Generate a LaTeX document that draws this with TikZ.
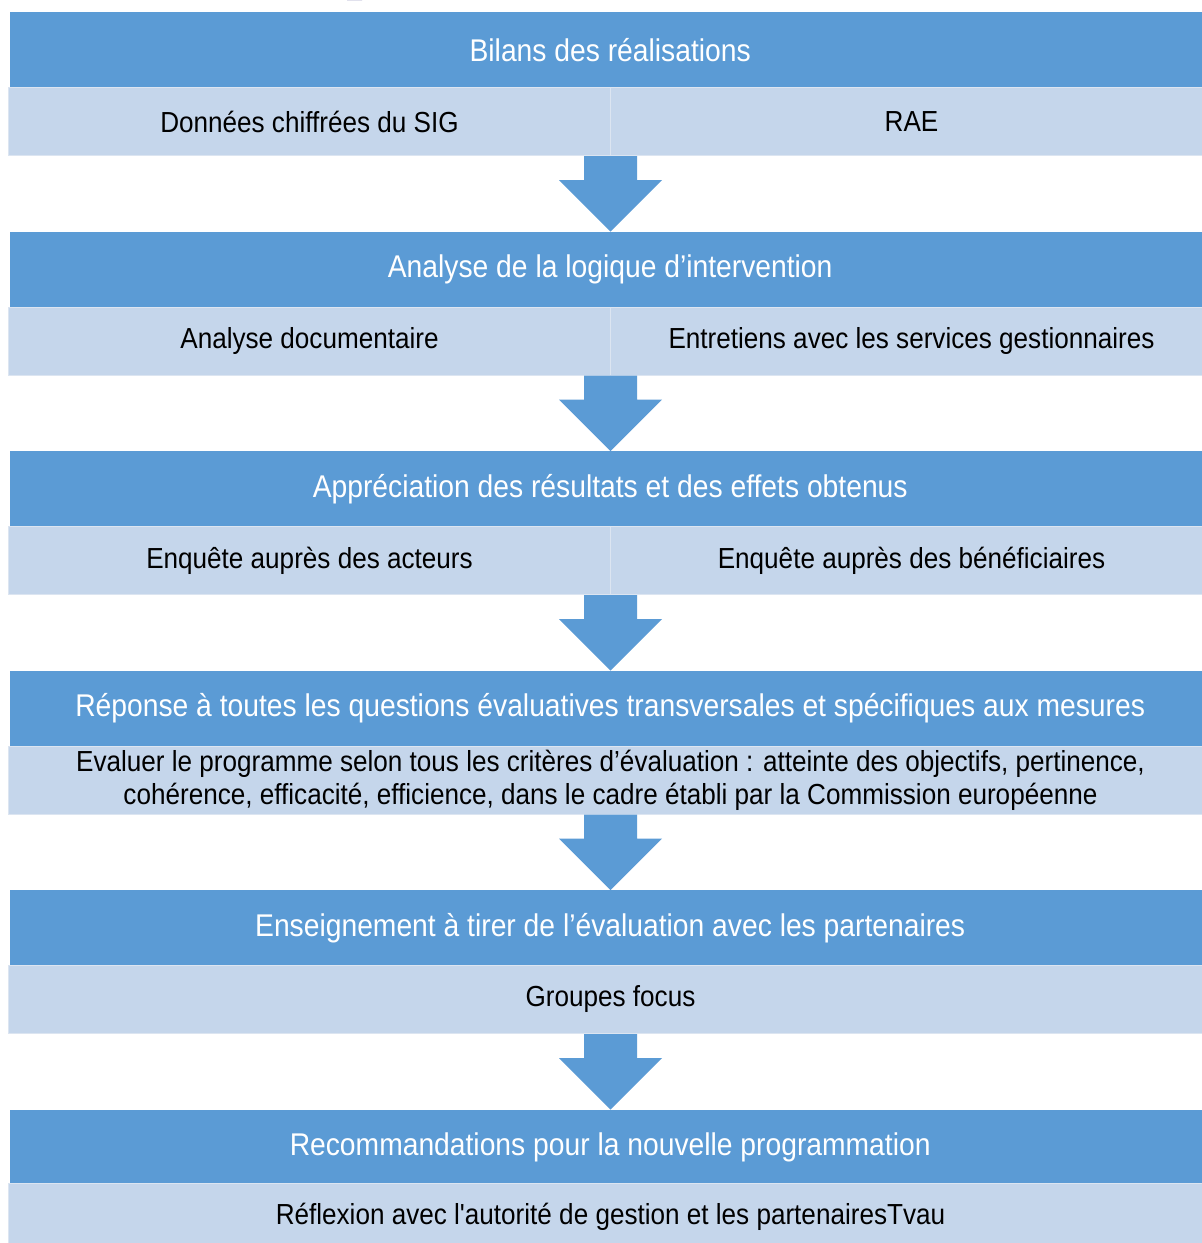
\documentclass[tikz,border=0pt]{standalone}
\usepackage{fontspec}
\newfontfamily\diagfont{Liberation Sans}[FakeStretch=0.9]
\usetikzlibrary{calc}
\definecolor{hdrblue}{HTML}{5B9BD5}
\definecolor{lightband}{HTML}{C5D6EB}
\definecolor{bandedge}{HTML}{DCE5F1}
\definecolor{navytitle}{HTML}{101070}
\tikzset{
  hdr/.style={fill=hdrblue, draw=none, anchor=north west, minimum width=1200pt, minimum height=75pt, inner sep=0pt,
    text=white, font=\diagfont\fontsize{31.4}{35}\selectfont},
  band/.style={fill=lightband, draw=bandedge, line width=1pt, anchor=north west, minimum width=602pt, minimum height=68pt, inner sep=0pt,
    text=black, font=\diagfont\fontsize{29}{33}\selectfont},
  wideband/.style={band, minimum width=1204pt},
  arrowfill/.style={fill=hdrblue, draw=none}
}
\begin{document}
\begin{tikzpicture}[x=1pt,y=-1pt]
\useasboundingbox (0,0) rectangle (1202,1243);
\fill[white] (0,0) rectangle (1202,1243);
% cut-off title fragment at the very top
\fill[navytitle] (347,0) arc[start angle=180, end angle=360, x radius=7.5, y radius=4];

% section 1
\node[hdr] (H1) at (10,12) {Bilans des réalisations};
\node[band] (L1) at (8,87) {Données chiffrées du SIG};
\node[band] (R1) at (610,87) {RAE};
% section 2
\node[hdr] (H2) at (10,231.5) {Analyse de la logique d’intervention};
\node[band] (L2) at (8,306.5) {Analyse documentaire};
\node[band] (R2) at (610,306.5) {Entretiens avec les services gestionnaires};
% section 3
\node[hdr] (H3) at (10,451) {Appréciation des résultats et des effets obtenus};
\node[band] (L3) at (8,526) {Enquête auprès des acteurs};
\node[band] (R3) at (610,526) {Enquête auprès des bénéficiaires};
% section 4
\node[hdr] (H4) at (10,670.5) {Réponse à toutes les questions évaluatives transversales et spécifiques aux mesures};
\node[wideband, align=center] (L4) at (8,745.5) {Evaluer le programme selon tous les critères d’évaluation : atteinte des objectifs, pertinence,\\cohérence, efficacité, efficience, dans le cadre établi par la Commission européenne};
% section 5
\node[hdr] (H5) at (10,890) {Enseignement à tirer de l’évaluation avec les partenaires};
\node[wideband] (L5) at (8,965) {Groupes focus};
% section 6
\node[hdr] (H6) at (10,1109.5) {Recommandations pour la nouvelle programmation};
\node[wideband] (L6) at (8,1182.5) {Réflexion avec l'autorité de gestion et les partenairesTvau};

% block arrows
\foreach \a/\b in {L1/H2, L2/H3, L3/H4, L4/H5, L5/H6}{
  \fill[arrowfill]
    ($(\a.south west)+(602.5,0)+(-26.5,0)$) -- ++(0,24) -- ++(-25,0)
    -- ($(\a.south west |- \b.north)+(602.5,0)$)
    -- ($(\a.south west)+(602.5,0)+(51.5,24)$) -- ++(-25,0) -- ++(0,-24) -- cycle;
}
\end{tikzpicture}
\end{document}
